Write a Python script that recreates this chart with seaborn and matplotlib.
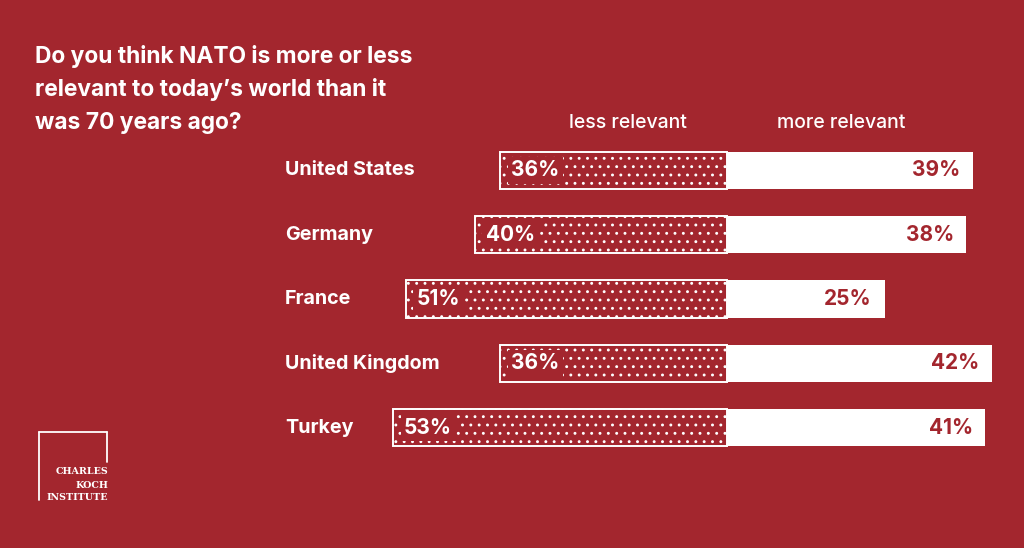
import matplotlib
matplotlib.use("Agg")
import matplotlib.pyplot as plt
import seaborn as sns
import pandas as pd
from matplotlib.lines import Line2D

countries = ["United States", "Germany", "France", "United Kingdom", "Turkey"]
less_relevant = [36, 40, 51, 36, 53]
more_relevant = [39, 38, 25, 42, 41]
title_lines = ["Do you think NATO is more or less",
               "relevant to today\u2019s world than it",
               "was 70 years ago?"]

BG = "#A3262E"
WHITE = "#FFFFFF"

sns.set_theme(style="white")
plt.rcParams["font.family"] = ["Inter", "DejaVu Sans"]
plt.rcParams["hatch.color"] = WHITE
plt.rcParams["hatch.linewidth"] = 0.9

W, H = 1024, 548
fig = plt.figure(figsize=(W / 100, H / 100), dpi=100, facecolor=BG)

zero_px, scale = 727, 6.3
xmin, xmax = -60, 45
left_px = zero_px + xmin * scale
right_px = zero_px + xmax * scale
top_px, bot_px = 138, 460
ax = fig.add_axes([left_px / W, 1 - bot_px / H, (right_px - left_px) / W, (bot_px - top_px) / H])
ax.set_facecolor(BG)

df = pd.DataFrame({"country": countries,
                   "less": [-v for v in less_relevant],
                   "more": more_relevant})

sns.barplot(data=df, y="country", x="more", orient="h", color=WHITE,
            saturation=1, width=0.58, ax=ax, order=countries)
n_more = len(ax.patches)
sns.barplot(data=df, y="country", x="less", orient="h", color=BG,
            saturation=1, width=0.58, ax=ax, order=countries)
for p in ax.patches[n_more:]:
    p.set_facecolor(BG)
    p.set_edgecolor(WHITE)
    p.set_linewidth(1.4)
    p.set_hatch("..")
for p in ax.patches[:n_more]:
    p.set_edgecolor("none")

ax.set_xlim(xmin, xmax)
ax.set_ylim(len(countries) - 0.5, -0.5)
ax.axis("off")

for i, (l, m) in enumerate(zip(less_relevant, more_relevant)):
    ax.text(-l + 1.75, i, f"{l}%", color=WHITE, fontsize=15, fontweight="bold",
            va="center", ha="left",
            bbox=dict(facecolor=BG, edgecolor="none", pad=2.5))
    ax.text(m - 2.0, i, f"{m}%", color=BG, fontsize=15, fontweight="bold",
            va="center", ha="right")

for i, c in enumerate(countries):
    yy = ax.transData.transform((0, i))[1]
    fig.text(285 / W, yy / H, c, color=WHITE, fontsize=14.2, fontweight="bold",
             va="center", ha="left")

fig.text(628 / W, 1 - 123 / H, "less relevant", color=WHITE, fontsize=14,
         fontweight="medium", ha="center", va="center")
fig.text(841 / W, 1 - 123 / H, "more relevant", color=WHITE, fontsize=14,
         fontweight="medium", ha="center", va="center")

for line, base in zip(title_lines, [63, 96, 129]):
    fig.text(35 / W, 1 - base / H, line, color=WHITE, fontsize=16.4,
             fontweight="bold", ha="left", va="baseline")

# logo
lw = 1.3
fig.add_artist(Line2D([39 / W, 39 / W], [1 - 500 / H, 1 - 432 / H], color=WHITE, lw=lw))
fig.add_artist(Line2D([39 / W, 107 / W], [1 - 432 / H, 1 - 432 / H], color=WHITE, lw=lw))
fig.add_artist(Line2D([107 / W, 107 / W], [1 - 432 / H, 1 - 462 / H], color=WHITE, lw=lw))
for t, y in zip(["CHARLES", "KOCH", "INSTITUTE"], [471, 485, 498]):
    fig.text(108 / W, 1 - y / H, t, color=WHITE, fontsize=6.8, family="DejaVu Serif",
             fontweight="bold", ha="right", va="center")

fig.savefig("out.png", dpi=100, facecolor=BG)
